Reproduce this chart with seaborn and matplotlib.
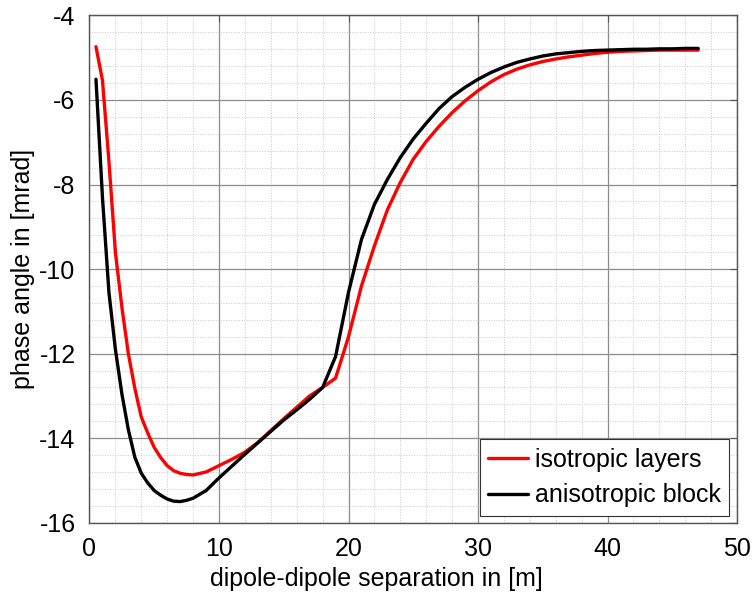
import numpy as np
import pandas as pd
import matplotlib
matplotlib.use("Agg")
import matplotlib.pyplot as plt
import seaborn as sns
from matplotlib.ticker import MultipleLocator

# ---- data ----
separation = [0.5, 1, 1.5, 2, 2.5, 3, 3.5, 4, 4.5, 5, 5.5, 6, 6.5, 7, 7.5, 8,
              9, 10, 11, 12, 13, 14, 15, 16, 17, 18, 19, 20, 21, 22, 23, 24,
              25, 26, 27, 28, 29, 30, 31, 32, 33, 34, 35, 36, 37, 38, 39, 40,
              41, 42, 43, 44, 45, 46, 47]
isotropic = [-4.74, -5.53, -7.45, -9.60, -10.90, -12.00, -12.82, -13.50, -13.88,
             -14.22, -14.46, -14.65, -14.77, -14.83, -14.86, -14.87,
             -14.80, -14.65, -14.50, -14.33, -14.10, -13.82, -13.54, -13.27,
             -13.00, -12.80, -12.58, -11.60, -10.40, -9.45, -8.60, -7.95,
             -7.40, -6.98, -6.62, -6.30, -6.02, -5.78, -5.57, -5.40, -5.27,
             -5.17, -5.09, -5.03, -4.98, -4.94, -4.90, -4.87, -4.85, -4.84,
             -4.83, -4.82, -4.82, -4.82, -4.82]
anisotropic = [-5.51, -8.30, -10.55, -11.90, -12.95, -13.80, -14.45, -14.83, -15.06,
               -15.24, -15.35, -15.44, -15.49, -15.50, -15.47, -15.42,
               -15.24, -14.94, -14.66, -14.38, -14.11, -13.84, -13.57, -13.33,
               -13.08, -12.80, -12.07, -10.55, -9.30, -8.47, -7.88, -7.36,
               -6.92, -6.55, -6.20, -5.92, -5.70, -5.51, -5.35, -5.22, -5.11,
               -5.03, -4.96, -4.91, -4.88, -4.85, -4.83, -4.82, -4.81, -4.80,
               -4.80, -4.79, -4.79, -4.78, -4.78]
series_names = ["isotropic layers", "anisotropic block"]
series_colors = ["#ff0000", "#000000"]

df = pd.concat([
    pd.DataFrame({"x": separation, "y": isotropic, "model": series_names[0]}),
    pd.DataFrame({"x": separation, "y": anisotropic, "model": series_names[1]}),
], ignore_index=True)

sns.set_style("white")
plt.rcParams["font.family"] = ["Liberation Sans", "DejaVu Sans"]
plt.rcParams["axes.unicode_minus"] = False

FS = 18

fig = plt.figure(figsize=(7.54, 5.94), dpi=100)
ax = fig.add_axes([0.1187, 0.120, 0.8588, 0.854])

sns.lineplot(data=df, x="x", y="y", hue="model", hue_order=series_names,
             palette=series_colors, linewidth=2.4, ax=ax, legend=False,
             sort=False, estimator=None)

ax.set_xlim(0, 50)
ax.set_ylim(-16, -4)
ax.xaxis.set_major_locator(MultipleLocator(10))
ax.xaxis.set_minor_locator(MultipleLocator(2))
ax.yaxis.set_major_locator(MultipleLocator(2))
ax.yaxis.set_minor_locator(MultipleLocator(0.4))

ax.grid(which="major", color="#8c8c8c", linewidth=0.9, linestyle="-")
ax.grid(which="minor", color="#c8c8c8", linewidth=0.7, linestyle=":")
ax.set_axisbelow(True)

for s in ax.spines.values():
    s.set_visible(True)
    s.set_color("#555555")
    s.set_linewidth(1.0)

ax.tick_params(which="major", direction="in", length=5, width=0.8,
               color="#555555", top=True, right=True, labelsize=FS,
               labelcolor="black", pad=10)
ax.tick_params(which="minor", length=0, top=True, right=True)

ax.set_xlabel("dipole-dipole separation in [m]", fontsize=FS, color="black")
ax.xaxis.set_label_coords(0.443, -0.088)
ax.set_ylabel("phase angle in [mrad]", fontsize=FS, labelpad=3, color="black")

handles = [plt.Line2D([], [], color=c, linewidth=2.4) for c in series_colors]
leg = ax.legend(handles, series_names, loc="lower right", fontsize=FS,
                frameon=True, fancybox=False, framealpha=1, edgecolor="#333333",
                handlelength=1.6, borderpad=0.35, labelspacing=0.45,
                handletextpad=0.25, borderaxespad=0.0,
                bbox_to_anchor=(0.988, 0.013))
leg.get_frame().set_linewidth(0.8)
for t in leg.get_texts():
    t.set_color("black")

fig.savefig("out.png", dpi=100)
